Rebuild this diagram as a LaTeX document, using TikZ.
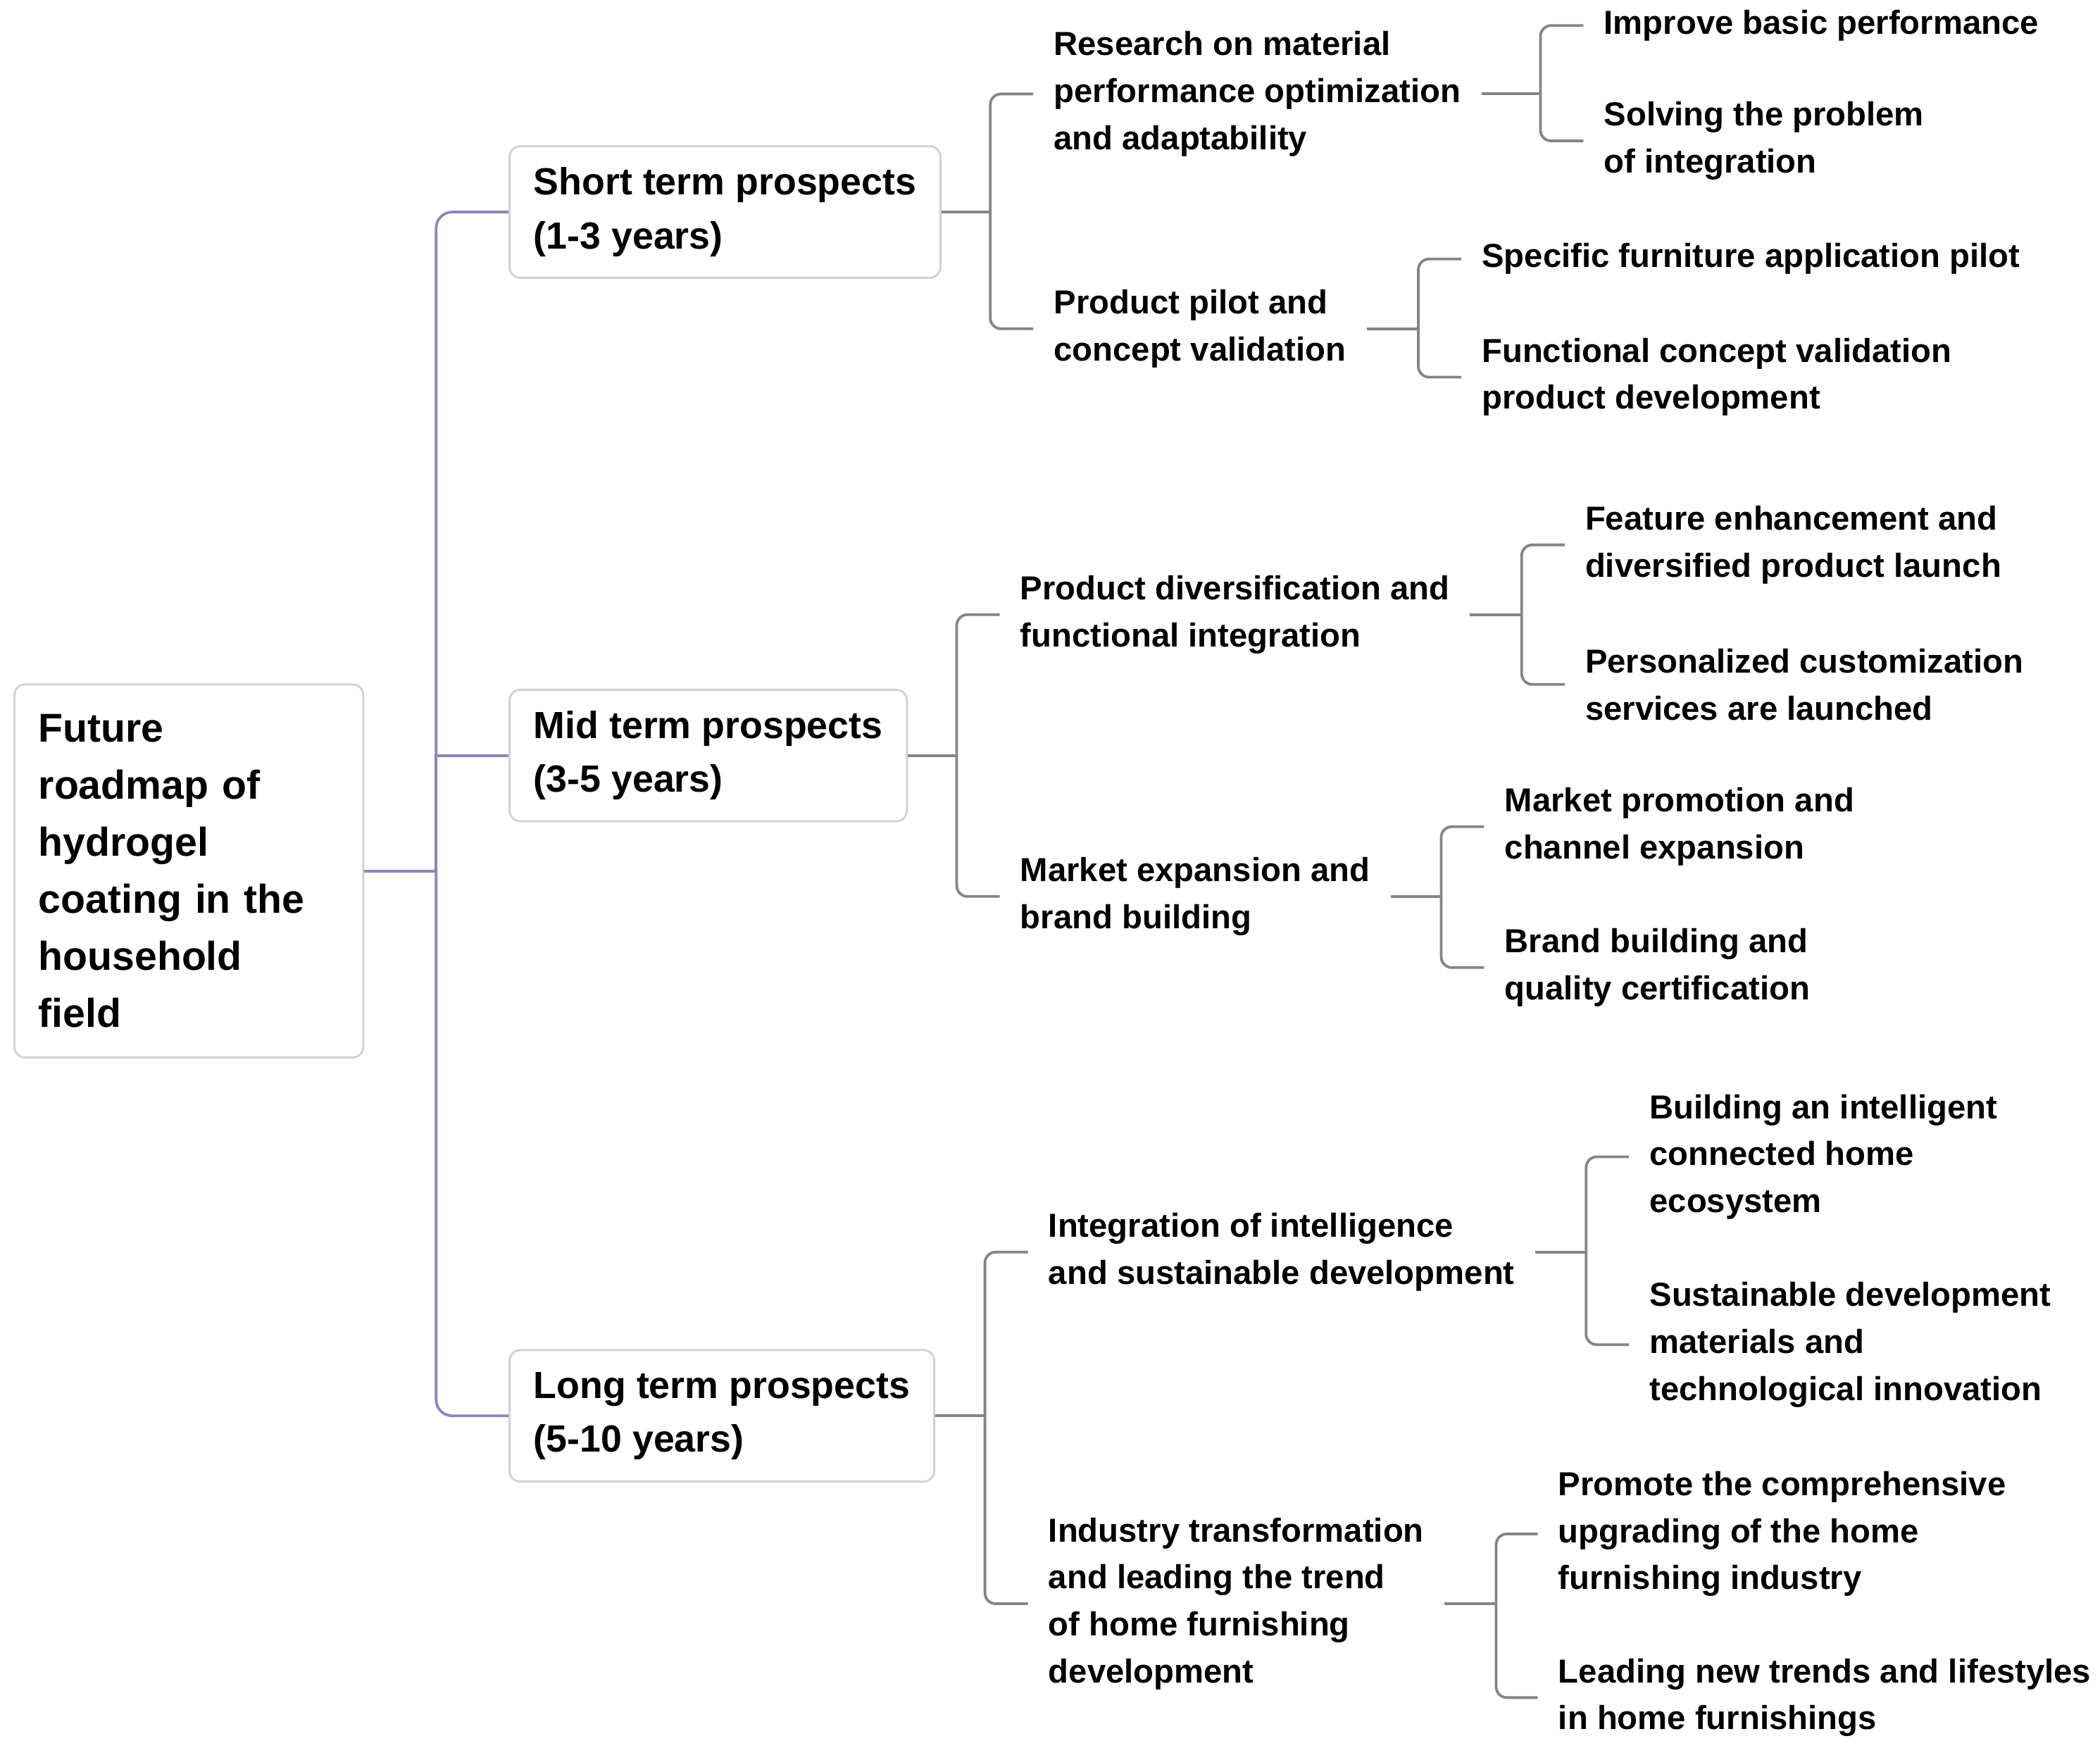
\documentclass[tikz,border=0pt]{standalone}
\usepackage{fontspec}
\setmainfont{Liberation Sans}
\usepackage{tikz}
\usetikzlibrary{positioning}
\usetikzlibrary{calc}
\definecolor{trunkcol}{HTML}{8C84C6}
\definecolor{branchcol}{HTML}{8A8383}
\definecolor{framecol}{HTML}{D2D2D2}

\begin{document}
\begin{tikzpicture}
  [
    x=0.5pt,y=-0.5pt,
    box/.style={
      draw=framecol,
      line width=0.75pt,
      fill=white,
      rounded corners=4pt,
      align=left,
      anchor=west,
      inner xsep=9pt
    },
    root/.style={
      box,
      text width=112pt,
      minimum height=139pt,
      font=\fontsize{15}{21.3}\selectfont\bfseries
    },
    term/.style={
      box,
      minimum height=49pt,
      font=\fontsize{14.1}{20}\selectfont\bfseries
    },
    item/.style={
      align=left,
      anchor=west,
      inner xsep=7.5pt,
      inner ysep=0pt,
      font=\fontsize{12.4}{17.5}\selectfont\bfseries
    },
    trunk/.style={
      draw=trunkcol,
      line width=1pt
    },
    branch/.style={
      draw=branchcol,
      line width=1pt
    }
  ]
  \fill [white] (0,0) rectangle (1565,1306);
  \useasboundingbox (0,0) rectangle (1565,1306);
  % root and terms
  \node [root] (root) at (10,649) {Future\\roadmap of\\hydrogel\\coating in the\\household\\field};
  \node [term] (s) at (379,158) {Short term prospects\\(1-3 years)};
  \node [term] (m) at (379,563) {Mid term prospects\\(3-5 years)};
  \node [term] (l) at (379,1055) {Long term prospects\\(5-10 years)};
  % short term
  \node [item] (s1) at (770,70) {Research on material\\performance optimization\\and adaptability};
  \node [item] (s2) at (770,245) {Product pilot and\\concept validation};
  \node [item] (s11) at (1180,19) {Improve basic performance};
  \node [item] (s12) at (1180,105) {Solving the problem\\of integration};
  \node [item] (s21) at (1089,193) {Specific furniture application pilot};
  \node [item] (s22) at (1089,281) {Functional concept validation\\product development};
  % mid term
  \node [item] (m1) at (745,458) {Product diversification and\\functional integration};
  \node [item] (m2) at (745,668) {Market expansion and\\brand building};
  \node [item] (m11) at (1166,406) {Feature enhancement and\\diversified product launch};
  \node [item] (m12) at (1166,510) {Personalized customization\\services are launched};
  \node [item] (m21) at (1106,616) {Market promotion and\\channel expansion};
  \node [item] (m22) at (1106,721) {Brand building and\\quality certification};
  % long term
  \node [item] (l1) at (766,933) {Integration of intelligence\\and sustainable development};
  \node [item] (l2) at (766,1195) {Industry transformation\\and leading the trend\\of home furnishing\\development};
  \node [item] (l11) at (1214,862) {Building an intelligent\\connected home\\ecosystem};
  \node [item] (l12) at (1214,1002) {Sustainable development\\materials and\\technological innovation};
  \node [item] (l21) at (1146,1143) {Promote the comprehensive\\upgrading of the home\\furnishing industry};
  \node [item] (l22) at (1146,1265) {Leading new trends and lifestyles\\in home furnishings};
  % junctions
  \coordinate (jroot) at (325,0);
  \coordinate (js) at (738,0);
  \coordinate (js1) at (1148,0);
  \coordinate (js2) at (1057,0);
  \coordinate (jm) at (713,0);
  \coordinate (jm1) at (1134,0);
  \coordinate (jm2) at (1074,0);
  \coordinate (jl) at (734,0);
  \coordinate (jl1) at (1182,0);
  \coordinate (jl2) at (1115,0);
  % trunk
  \draw [trunk] (root.east) -- (root.east -| jroot);
  \draw [trunk,rounded corners=6pt] (root.east -| jroot) |- (s.west);
  \draw [trunk] (root.east -| jroot) -- (m.west -| jroot) -- (m.west);
  \draw [trunk,rounded corners=6pt] (root.east -| jroot) |- (l.west);
  % branches
  \draw [branch] (s.east) -- (s.east -| js);
  \draw [branch,rounded corners=4pt] (s.east -| js) |- (s1.west);
  \draw [branch,rounded corners=4pt] (s.east -| js) |- (s2.west);
  \draw [branch] (s1.east) -- (s1.east -| js1);
  \draw [branch,rounded corners=4pt] (s1.east -| js1) |- (s11.west);
  \draw [branch,rounded corners=4pt] (s1.east -| js1) |- (s12.west);
  \draw [branch] (s2.east) -- (s2.east -| js2);
  \draw [branch,rounded corners=4pt] (s2.east -| js2) |- (s21.west);
  \draw [branch,rounded corners=4pt] (s2.east -| js2) |- (s22.west);
  \draw [branch] (m.east) -- (m.east -| jm);
  \draw [branch,rounded corners=4pt] (m.east -| jm) |- (m1.west);
  \draw [branch,rounded corners=4pt] (m.east -| jm) |- (m2.west);
  \draw [branch] (m1.east) -- (m1.east -| jm1);
  \draw [branch,rounded corners=4pt] (m1.east -| jm1) |- (m11.west);
  \draw [branch,rounded corners=4pt] (m1.east -| jm1) |- (m12.west);
  \draw [branch] (m2.east) -- (m2.east -| jm2);
  \draw [branch,rounded corners=4pt] (m2.east -| jm2) |- (m21.west);
  \draw [branch,rounded corners=4pt] (m2.east -| jm2) |- (m22.west);
  \draw [branch] (l.east) -- (l.east -| jl);
  \draw [branch,rounded corners=4pt] (l.east -| jl) |- (l1.west);
  \draw [branch,rounded corners=4pt] (l.east -| jl) |- (l2.west);
  \draw [branch] (l1.east) -- (l1.east -| jl1);
  \draw [branch,rounded corners=4pt] (l1.east -| jl1) |- (l11.west);
  \draw [branch,rounded corners=4pt] (l1.east -| jl1) |- (l12.west);
  \draw [branch] (l2.east) -- (l2.east -| jl2);
  \draw [branch,rounded corners=4pt] (l2.east -| jl2) |- (l21.west);
  \draw [branch,rounded corners=4pt] (l2.east -| jl2) |- (l22.west);
\end{tikzpicture}
\end{document}
